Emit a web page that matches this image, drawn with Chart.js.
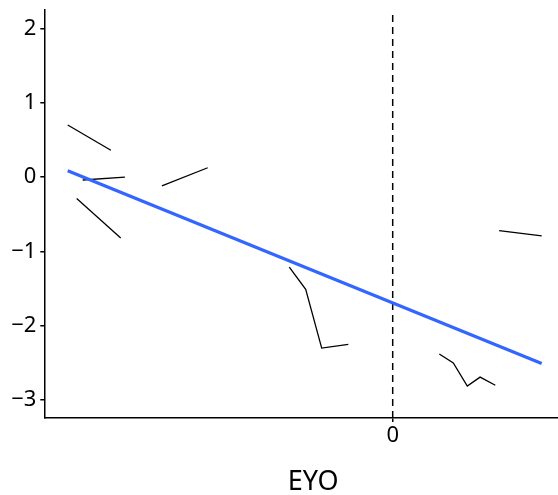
<!DOCTYPE html>
<html>
<head>
<meta charset="utf-8">
<script src="https://cdn.jsdelivr.net/npm/chart.js@4/dist/chart.umd.min.js"></script>
<style>
    html, body { margin: 0; padding: 0; background: #fff; overflow: hidden; }
    #wrap { width: 558px; height: 495px; overflow: hidden; }
</style>
</head>
<body>
<div id="wrap"><canvas id="eyo-chart" width="582" height="495"></canvas></div>
<script>
// ---- data ----
const yTicks = [-3, -2, -1, 0, 1, 2];
const xTicks = [0];

const fitX = [-16.25, 7.45];
const fitY = [0.085, -2.507];

const seg1X = [-16.25, -14.09];
const seg1Y = [0.70, 0.36];
const seg2X = [-15.5, -13.39];
const seg2Y = [-0.04, 0.0];
const seg3X = [-15.8, -13.6];
const seg3Y = [-0.29, -0.82];
const seg4X = [-11.54, -9.25];
const seg4Y = [-0.12, 0.125];
const seg5X = [-5.17, -4.35, -3.55, -2.22];
const seg5Y = [-1.21, -1.51, -2.30, -2.25];
const seg6X = [5.32, 7.45];
const seg6Y = [-0.72, -0.79];
const seg7X = [2.33, 3.03, 3.73, 4.37, 5.13];
const seg7Y = [-2.38, -2.50, -2.81, -2.69, -2.80];

const xMin = -17.42, xMax = 9.465;
const yMin = -3.24, yMax = 2.246;

function toPoints(xs, ys){
    return xs.map((x, i) => ({ x: x, y: ys[i] }));
}

const segments = [
    [seg1X, seg1Y], [seg2X, seg2Y], [seg3X, seg3Y], [seg4X, seg4Y],
    [seg5X, seg5Y], [seg6X, seg6Y], [seg7X, seg7Y]
];

const datasets = segments.map(s => ({
    data: toPoints(s[0], s[1]),
    borderColor: '#000',
    borderWidth: 1.3,
    showLine: true,
    pointRadius: 0,
    order: 2
}));

// dashed reference line at x = 0
datasets.push({
    data: toPoints([0, 0], [yMin, yMax]),
    borderColor: '#000',
    borderWidth: 1.5,
    borderDash: [7, 5],
    showLine: true,
    pointRadius: 0,
    order: 3
});

// fitted line
datasets.push({
    data: toPoints(fitX, fitY),
    borderColor: '#3366FF',
    borderWidth: 3.2,
    showLine: true,
    pointRadius: 0,
    order: 1
});

const tickFont = { family: 'Noto Sans', size: 22 };

new Chart(document.getElementById('eyo-chart').getContext('2d'), {
    type: 'scatter',
    data: { datasets: datasets },
    options: {
        responsive: false,
        animation: false,
        devicePixelRatio: 1,
        layout: { padding: { top: 10, right: 0, left: 0, bottom: 0 } },
        plugins: { legend: { display: false }, tooltip: { enabled: false } },
        scales: {
            x: {
                type: 'linear',
                min: xMin,
                max: xMax,
                afterBuildTicks: axis => { axis.ticks = xTicks.map(v => ({ value: v })); },
                afterFit: axis => { axis.height = 77; axis.paddingLeft = 0; axis.paddingRight = 0; },
                grid: { drawOnChartArea: false, drawTicks: true, tickLength: 4, color: '#000', lineWidth: 1.5 },
                border: { display: true, color: '#000', width: 1.5 },
                ticks: { color: '#000', font: tickFont, padding: 1, maxRotation: 0 },
                title: {
                    display: true,
                    text: 'EYO',
                    color: '#000',
                    font: { family: 'Noto Sans', size: 27 },
                    padding: { top: 0, bottom: -4 }
                }
            },
            y: {
                type: 'linear',
                min: yMin,
                max: yMax,
                afterBuildTicks: axis => { axis.ticks = yTicks.map(v => ({ value: v })); },
                afterFit: axis => { axis.width = 44.3; axis.paddingTop = 0; axis.paddingBottom = 0; },
                grid: { drawOnChartArea: false, drawTicks: true, tickLength: 4, color: '#000', lineWidth: 1.5 },
                border: { display: true, color: '#000', width: 1.5 },
                ticks: {
                    color: '#000',
                    font: tickFont,
                    padding: 4,
                    callback: v => (v < 0 ? '\u2212' + Math.abs(v) : String(v))
                }
            }
        }
    }
});
</script>
</body>
</html>
